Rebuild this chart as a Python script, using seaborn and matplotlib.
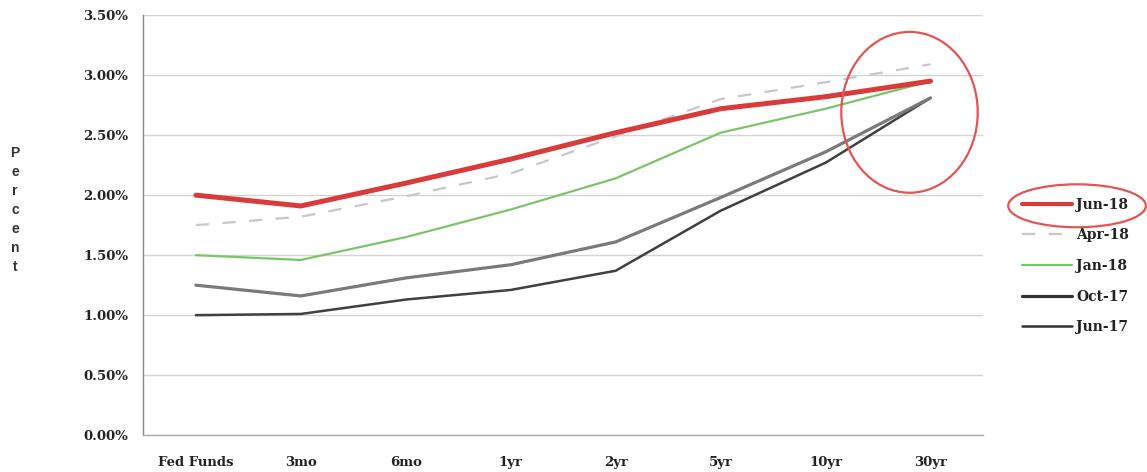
import matplotlib
matplotlib.use("Agg")
import matplotlib.pyplot as plt
from matplotlib.patches import Ellipse
from matplotlib.lines import Line2D
from matplotlib.ticker import FixedLocator, PercentFormatter
import seaborn as sns
import pandas as pd

categories = ["Fed Funds", "3mo", "6mo", "1yr", "2yr", "5yr", "10yr", "30yr"]
jun18 = [2.00, 1.91, 2.10, 2.30, 2.52, 2.72, 2.82, 2.95]
apr18 = [1.75, 1.82, 1.99, 2.18, 2.49, 2.80, 2.94, 3.09]
jan18 = [1.50, 1.46, 1.65, 1.88, 2.14, 2.52, 2.72, 2.95]
oct17 = [1.25, 1.16, 1.31, 1.42, 1.61, 1.98, 2.36, 2.81]
jun17 = [1.00, 1.01, 1.13, 1.21, 1.37, 1.87, 2.27, 2.81]
series_names = ["Jun-18", "Apr-18", "Jan-18", "Oct-17", "Jun-17"]
series_values = [jun18, apr18, jan18, oct17, jun17]
y_ticks = [0.0, 0.5, 1.0, 1.5, 2.0, 2.5, 3.0, 3.5]

styles = {
    "Jun-18": dict(color="#d93a3a", lw=3.6, ls="-"),
    "Apr-18": dict(color="#c6c6cc", lw=1.6, ls=(0, (6, 6))),
    "Jan-18": dict(color="#7cc46a", lw=1.6, ls="-"),
    "Oct-17": dict(color="#7a7a7a", lw=2.3, ls="-"),
    "Jun-17": dict(color="#404040", lw=1.8, ls="-"),
}

sns.set_theme(style="white")
plt.rcParams["font.family"] = ["DejaVu Serif", "Liberation Serif"]

fig = plt.figure(figsize=(11.47, 4.72), dpi=100)
ax = fig.add_axes([0.125, 0.078, 0.732, 0.89])

rows = []
for name, vals in zip(series_names, series_values):
    for c, v in zip(categories, vals):
        rows.append({"tenor": c, "rate": v, "series": name})
df = pd.DataFrame(rows)
df["pos"] = df["tenor"].map({c: i for i, c in enumerate(categories)})

# draw older series first so Jun-18 is on top
for name in ["Jun-17", "Oct-17", "Jan-18", "Apr-18", "Jun-18"]:
    st = styles[name]
    sub = df[df["series"] == name]
    sns.lineplot(data=sub, x="pos", y="rate", ax=ax, color=st["color"],
                 linewidth=st["lw"], linestyle=st["ls"], label=name, legend=False,
                 zorder=5 if name == "Jun-18" else 3)

ax.set_xlim(-0.5, 7.5)
ax.set_ylim(0, 3.5)
ax.set_yticks(y_ticks)
ax.yaxis.set_major_formatter(PercentFormatter(decimals=2))
ax.set_xticks(range(len(categories)))
ax.set_xticklabels(categories)
ax.xaxis.set_minor_locator(FixedLocator([i - 0.5 for i in range(len(categories) + 1)]))
ax.tick_params(axis="x", which="major", length=0, pad=15, labelsize=9.5)
ax.tick_params(axis="x", which="minor", length=4, width=0.8, color="#888888", direction="out")
ax.tick_params(axis="y", which="major", length=5, width=0.8, color="#888888", direction="out",
               labelsize=9.5, pad=6)
for lab in ax.get_xticklabels() + ax.get_yticklabels():
    lab.set_fontweight("bold")
    lab.set_color("#222222")

ax.grid(axis="y", color="#d4d4d4", linewidth=1.0)
ax.set_axisbelow(True)
for s in ["top", "right"]:
    ax.spines[s].set_visible(False)
ax.spines["left"].set_color("#888888")
ax.spines["left"].set_linewidth(1.0)
ax.spines["bottom"].set_color("#aaaaaa")
ax.spines["bottom"].set_linewidth(1.0)
ax.set_xlabel("")
ax.set_ylabel("")

fig.text(0.013, 0.555, "P\ne\nr\nc\ne\nn\nt", ha="center", va="center", fontsize=10,
         family=["Liberation Sans", "DejaVu Sans"], fontweight="bold", color="#333333",
         linespacing=1.45)

# highlight ellipse on the 30yr end
ax.add_patch(Ellipse((6.80, 2.69), 1.30, 1.34, fill=False, edgecolor="#e05555",
                     linewidth=1.6, clip_on=False, zorder=6))

# legend
handles = []
for name in series_names:
    st = styles[name]
    color = st["color"] if name not in ("Oct-17", "Jun-17") else "#333333"
    handles.append(Line2D([], [], color=color, lw=st["lw"] if name != "Jun-18" else 3.0,
                          ls=st["ls"]))
leg = fig.legend(handles, series_names, loc="upper left", bbox_to_anchor=(0.886, 0.593),
                 frameon=False, fontsize=10, handlelength=3.6, handletextpad=0.3,
                 labelspacing=1.2, borderaxespad=0)
for t in leg.get_texts():
    t.set_fontweight("bold")
    t.set_color("#222222")

fig.patches.append(Ellipse((0.939, 0.564), 0.120, 0.091, transform=fig.transFigure,
                           fill=False, edgecolor="#e05555", linewidth=1.6))

fig.savefig("out.png", dpi=100)
